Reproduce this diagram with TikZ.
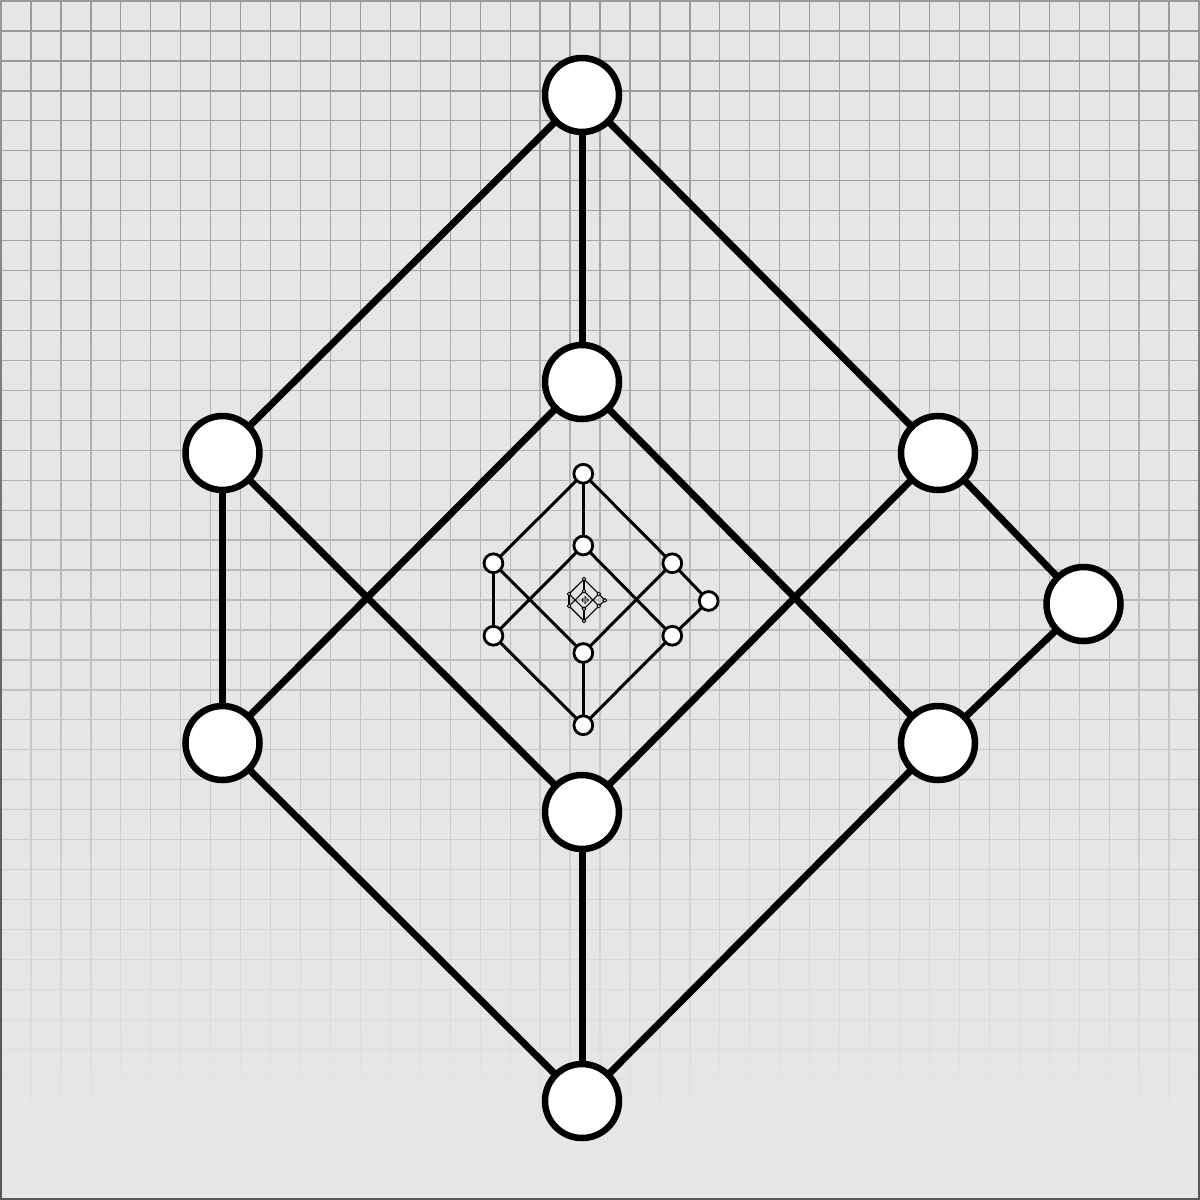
\documentclass[tikz,border=0pt]{standalone}
\usepackage{xcolor}
\definecolor{bgc}{HTML}{E6E6E6}
\definecolor{gridc}{HTML}{9A9A9A}
\definecolor{bordc}{HTML}{585858}
\tikzset{vtx/.style={circle, draw=black, fill=white, inner sep=0pt, outer sep=0pt}}
\newcommand\latlevel[7]{%
  \foreach \n/\px/\py in {T/0/-503,MU/0/-216,LU/-359.5/-145,RU/356/-145,FR/501.5/6,LL/-359.5/145,RL/356/145,ML/0/214,B/0/503}
    {\node[vtx, minimum size=#5*2pt, line width=#6pt] (#1\n) at ({#2+(#4)*(\px)},{#3+(#4)*(\py)}) {};}
  \foreach \u/\v in {T/MU,T/LU,T/RU,LU/LL,LU/ML,MU/LL,MU/RL,RU/ML,RU/FR,FR/RL,LL/B,RL/B,ML/B}
    {\draw[line width=#7pt] (#1\u) -- (#1\v);}
}
\begin{document}
\begin{tikzpicture}[x=1pt,y=-1pt]
\useasboundingbox (0,0) rectangle (1200,1200);
\fill[bgc] (0,0) rectangle (1200,1200);
\draw[bordc, line width=2pt] (1,1) rectangle (1199,1199);
% vertical grid lines, fading downwards
\foreach \k in {1,...,39} {
  \pgfmathsetmacro\xx{1+29.95*\k}
  \foreach \j in {0,...,75} {
    \pgfmathsetmacro\ya{15*\j}
    \pgfmathsetmacro\yb{15*\j+15}
    \pgfmathtruncatemacro\p{max(0,100*(1-((\ya+7.5)/1140)^1.3))}
    \draw[draw=gridc!\p!bgc, line width=1.3pt] (\xx,\ya) -- (\xx,\yb);
  }
}
% outer frame lines: grid colour at the top, dark border below
\foreach \xx in {1,1199} {
  \foreach \j in {0,...,75} {
    \pgfmathsetmacro\ya{15*\j}
    \pgfmathsetmacro\yb{min(15*\j+15,1198)}
    \pgfmathtruncatemacro\p{max(0,100*(1-((\ya+7.5)/1140)^1.3)^2)}
    \draw[draw=gridc!\p!bordc, line width=2pt] (\xx,\ya) -- (\xx,\yb);
  }
}
% horizontal grid lines
\foreach \k in {1,...,39} {
  \pgfmathsetmacro\yy{1+29.95*\k}
  \pgfmathtruncatemacro\p{max(0,100*(1-(\yy/1140)^1.3))}
  \draw[draw=gridc!\p!bgc, line width=1.3pt] (2,\yy) -- (1198,\yy);
}
\draw[gridc, line width=2pt] (0,1) -- (1200,1);
% recursive lattice
\latlevel{a}{582}{598}{1}{37}{6.5}{7}
\latlevel{b}{583.3}{599.5}{0.25}{9.4}{2.8}{3}
\latlevel{c}{584}{600}{0.0416667}{1.8}{0.9}{1.1}
\latlevel{d}{585}{600}{0.0069444}{0.45}{0.25}{0.3}
\end{tikzpicture}
\end{document}
